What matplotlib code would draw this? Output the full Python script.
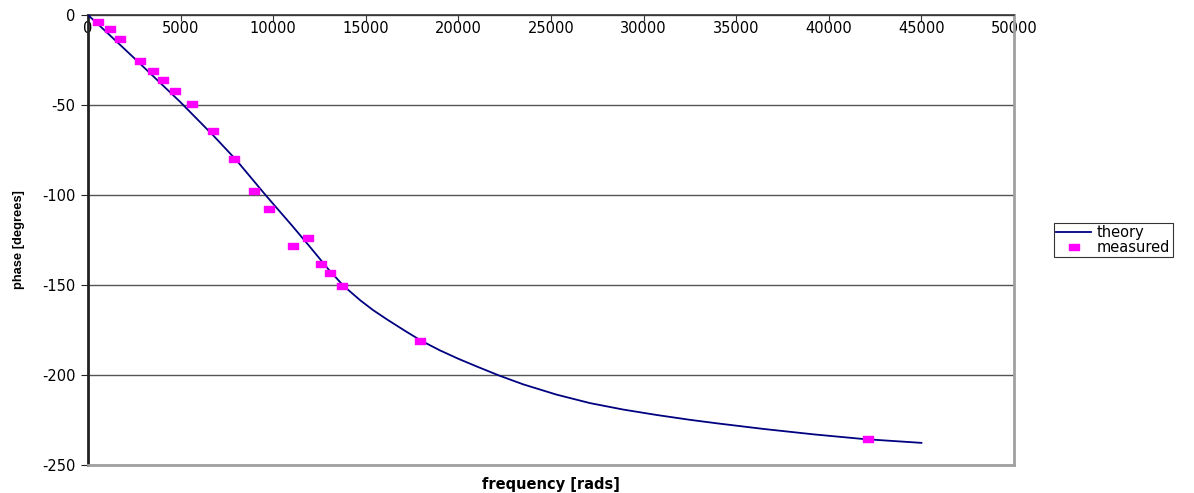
import matplotlib.pyplot as plt
from matplotlib.path import Path

# theory curve
theory_freq = [0, 1000, 2500, 4970, 6770, 8000, 9600, 11000, 12000, 13000,
               13800, 14700, 15400, 16200, 17200, 18000, 19000, 20000, 21000,
               22200, 23500, 25300, 27100, 28900, 30700, 32500, 34000, 36500,
               39200, 41900, 45000]
theory_phase = [0, -9.5, -24, -48.2, -67, -80.5, -100.2, -116.8, -129, -141.5,
                -150.5, -158.5, -164, -169.5, -176, -181, -186.3, -191, -195.3,
                -200.3, -205.2, -210.9, -215.6, -219.2, -222.2, -224.9, -226.9, -230,
                -233, -235.6, -237.7]

# measured points
meas_freq = [540, 1190, 1730, 2800, 3510, 4050, 4700, 5620, 6770, 7900,
             8980, 9800, 11090, 11880, 12580, 13070, 13720, 17930, 42120]
meas_phase = [-4, -7.6, -13.5, -25.4, -31.1, -36.1, -42, -49.4, -64.3, -80.2,
              -97.8, -107.9, -128.3, -123.9, -138.5, -143.5, -150.6, -181, -235.4]

x_ticks = list(range(0, 50001, 5000))
y_ticks = [0, -50, -100, -150, -200, -250]

plt.rcParams['font.family'] = ['DejaVu Sans']
plt.rcParams['axes.unicode_minus'] = False

fig = plt.figure(figsize=(11.94, 4.93), dpi=100)
ax = fig.add_axes([88 / 1194, 1 - 465 / 493, 926 / 1194, 450 / 493])

rect = Path([(-1, -0.6), (1, -0.6), (1, 0.6), (-1, 0.6), (-1, -0.6)],
            [Path.MOVETO, Path.LINETO, Path.LINETO, Path.LINETO, Path.CLOSEPOLY])

ax.plot(theory_freq, theory_phase, color='#000080', lw=1.3, label='theory', zorder=3)
ax.plot(meas_freq, meas_phase, ls='none', marker=rect, ms=7.5, color='#ff00ff',
        mec='#ff00ff', label='measured', zorder=4)

ax.set_xlim(0, 50000)
ax.set_ylim(-250, 0)
ax.set_xticks(x_ticks)
ax.set_yticks(y_ticks)
ax.yaxis.grid(True, color='#555555', lw=1)
ax.set_axisbelow(True)

ax.spines['top'].set_color('#333333')
ax.spines['top'].set_linewidth(1.2)
ax.spines['left'].set_color('#222222')
ax.spines['left'].set_linewidth(2)
for s in ['right', 'bottom']:
    ax.spines[s].set_color('#a0a0a0')
    ax.spines[s].set_linewidth(2)

ax.tick_params(axis='x', top=True, bottom=False, labeltop=True, labelbottom=False,
               direction='in', length=4, pad=-15, labelsize=10.5, color='#333333')
ax.tick_params(axis='y', direction='out', length=5, labelsize=10.5, pad=4, color='#222222')

ax.set_xlabel('frequency [rads]', fontweight='bold', fontsize=10.5, labelpad=9)
ax.set_ylabel('phase [degrees]', fontweight='bold', fontsize=9.3,
              family=['Liberation Sans'], labelpad=12)

leg = fig.legend(loc='center left', bbox_to_anchor=(1054 / 1194, 1 - 240 / 493),
                 fontsize=10.5, frameon=True, fancybox=False, borderpad=0.15,
                 handlelength=2.4, handletextpad=0.4, labelspacing=0.0,
                 borderaxespad=0)
leg.get_frame().set_edgecolor('black')
leg.get_frame().set_linewidth(0.8)

fig.savefig('out.png', dpi=100)
